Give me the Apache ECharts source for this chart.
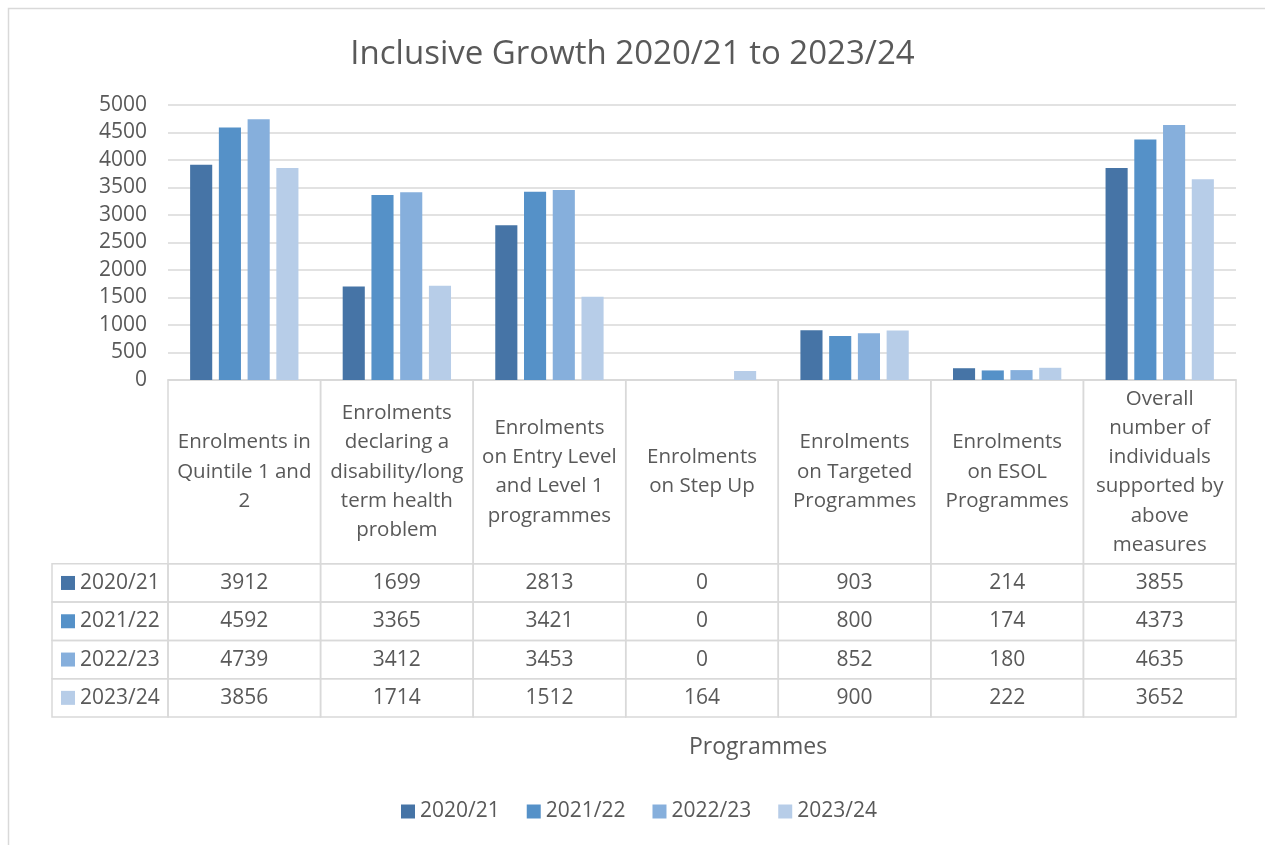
<!DOCTYPE html>
<html>
<head>
<meta charset="utf-8">
<title>Inclusive Growth 2020/21 to 2023/24</title>
<script src="https://cdn.jsdelivr.net/npm/echarts@6/dist/echarts.min.js"></script>
<style>
  html, body { margin: 0; padding: 0; background: #ffffff; }
  #chart { width: 1265px; height: 845px; }
</style>
</head>
<body>
<div id="chart"></div>
<script>
// Programme categories (line breaks as shown in the table header)
const categories = [
  'Enrolments in\nQuintile 1 and\n2',
  'Enrolments\ndeclaring a\ndisability/long\nterm health\nproblem',
  'Enrolments\non Entry Level\nand Level 1\nprogrammes',
  'Enrolments\non Step Up',
  'Enrolments\non Targeted\nProgrammes',
  'Enrolments\non ESOL\nProgrammes',
  'Overall\nnumber of\nindividuals\nsupported by\nabove\nmeasures'
];

// Academic years
const years = ['2020/21', '2021/22', '2022/23', '2023/24'];

// Enrolment counts per year, one value per programme
const values2020 = [3912, 1699, 2813, 0, 903, 214, 3855];
const values2021 = [4592, 3365, 3421, 0, 800, 174, 4373];
const values2022 = [4739, 3412, 3453, 0, 852, 180, 4635];
const values2023 = [3856, 1714, 1512, 164, 900, 222, 3652];

// Value axis range
const yMin = 0;
const yMax = 5000;
const yStep = 500;

const seriesValues = [values2020, values2021, values2022, values2023];
const colors = ['#4674A6', '#5591C8', '#86AFDC', '#B7CDE8'];

const FONT = '"Open Sans", "Noto Sans", sans-serif';
const TEXT = '#595959';
const LINE = '#D9D9D9';

// Data table layout: header height in row units, legend-key column width in px
const HEADER_ROWS = 4.8;
const KEY_COL = 116;

const chart = echarts.init(document.getElementById('chart'), null, { renderer: 'canvas' });

const barSeries = years.map((y, i) => ({
  name: y,
  type: 'bar',
  xAxisIndex: 0,
  yAxisIndex: 0,
  data: seriesValues[i],
  itemStyle: { color: colors[i] },
  barGap: '30%',
  barCategoryGap: '29%'
}));

// Header row of the data table
const headerSeries = {
  type: 'custom',
  xAxisIndex: 1,
  yAxisIndex: 1,
  silent: true,
  data: categories.map((c, j) => [j, 0]),
  renderItem: function (params, api) {
    const j = api.value(0);
    const p0 = api.coord([j - 0.5, 0]);
    const p1 = api.coord([j + 0.5, HEADER_ROWS]);
    return {
      type: 'group',
      children: [
        {
          type: 'rect',
          shape: { x: p0[0], y: p0[1], width: p1[0] - p0[0], height: p1[1] - p0[1] },
          style: { fill: null, stroke: LINE, lineWidth: 1.5 }
        },
        {
          type: 'text',
          style: {
            text: categories[j],
            x: (p0[0] + p1[0]) / 2,
            y: (p0[1] + p1[1]) / 2,
            align: 'center',
            verticalAlign: 'middle',
            fontSize: 20.5,
            lineHeight: 29.3,
            fontFamily: FONT,
            fill: TEXT
          }
        }
      ]
    };
  }
};

// Value cells of the data table
const cellData = [];
seriesValues.forEach((vals, s) => {
  vals.forEach((v, j) => { cellData.push([j, s, v]); });
});

const cellSeries = {
  type: 'custom',
  xAxisIndex: 1,
  yAxisIndex: 1,
  silent: true,
  data: cellData,
  renderItem: function (params, api) {
    const j = api.value(0);
    const s = api.value(1);
    const v = api.value(2);
    const p0 = api.coord([j - 0.5, HEADER_ROWS + s]);
    const p1 = api.coord([j + 0.5, HEADER_ROWS + s + 1]);
    return {
      type: 'group',
      children: [
        {
          type: 'rect',
          shape: { x: p0[0], y: p0[1], width: p1[0] - p0[0], height: p1[1] - p0[1] },
          style: { fill: null, stroke: LINE, lineWidth: 1.5 }
        },
        {
          type: 'text',
          style: {
            text: String(v),
            x: (p0[0] + p1[0]) / 2,
            y: (p0[1] + p1[1]) / 2,
            align: 'center',
            verticalAlign: 'middle',
            fontSize: 21,
            fontFamily: FONT,
            fill: TEXT
          }
        }
      ]
    };
  }
};

// Legend-key column at the left of the data table
const keySeries = {
  type: 'custom',
  xAxisIndex: 1,
  yAxisIndex: 1,
  silent: true,
  data: years.map((y, s) => [-0.5, s]),
  renderItem: function (params, api) {
    const s = api.value(1);
    const p0 = api.coord([-0.5, HEADER_ROWS + s]);
    const p1 = api.coord([-0.5, HEADER_ROWS + s + 1]);
    const left = p0[0] - KEY_COL;
    const midY = (p0[1] + p1[1]) / 2;
    return {
      type: 'group',
      children: [
        {
          type: 'rect',
          shape: { x: left, y: p0[1], width: KEY_COL, height: p1[1] - p0[1] },
          style: { fill: null, stroke: LINE, lineWidth: 1.5 }
        },
        {
          type: 'rect',
          shape: { x: left + 9, y: midY - 7, width: 14, height: 14 },
          style: { fill: colors[s] }
        },
        {
          type: 'text',
          style: {
            text: years[s],
            x: left + 28,
            y: midY,
            align: 'left',
            verticalAlign: 'middle',
            fontSize: 21,
            fontFamily: FONT,
            fill: TEXT
          }
        }
      ]
    };
  }
};

chart.setOption({
  animation: false,
  backgroundColor: '#ffffff',
  textStyle: { fontFamily: FONT, color: TEXT },
  title: {
    text: 'Inclusive Growth 2020/21 to 2023/24',
    left: 'center',
    top: 33,
    textStyle: { fontFamily: FONT, fontSize: 33, fontWeight: 'normal', color: TEXT }
  },
  graphic: [
    {
      type: 'rect',
      left: 6,
      top: 6,
      shape: { width: 1258, height: 850 },
      style: { fill: null, stroke: LINE, lineWidth: 1.5 },
      silent: true,
      z: -10
    },
    {
      type: 'text',
      left: 689,
      top: 736,
      style: { text: 'Programmes', fontSize: 23, fontFamily: FONT, fill: TEXT }
    }
  ],
  legend: {
    data: years,
    left: 396,
    top: 796,
    itemWidth: 14,
    itemHeight: 14,
    itemGap: 27,
    icon: 'rect',
    textStyle: { fontFamily: FONT, fontSize: 21, color: TEXT },
    selectedMode: false
  },
  grid: [
    { left: 168, right: 29, top: 105, bottom: 465, containLabel: false },
    { left: 168, right: 29, top: 380, bottom: 128, containLabel: false }
  ],
  xAxis: [
    {
      type: 'category',
      gridIndex: 0,
      data: categories,
      axisLabel: { show: false },
      axisTick: { show: false },
      axisLine: { show: true, lineStyle: { color: LINE, width: 1.5 } }
    },
    {
      type: 'value',
      gridIndex: 1,
      min: -0.5,
      max: 6.5,
      show: false
    }
  ],
  yAxis: [
    {
      type: 'value',
      gridIndex: 0,
      min: yMin,
      max: yMax,
      interval: yStep,
      axisLine: { show: false },
      axisTick: { show: false },
      axisLabel: {
        fontFamily: FONT,
        fontSize: 21,
        color: TEXT,
        margin: 21,
        formatter: (v) => String(v)
      },
      splitLine: { lineStyle: { color: LINE, width: 1.5 } }
    },
    {
      type: 'value',
      gridIndex: 1,
      min: 0,
      max: HEADER_ROWS + years.length,
      inverse: true,
      show: false
    }
  ],
  series: barSeries.concat([headerSeries, cellSeries, keySeries])
});
</script>
</body>
</html>
